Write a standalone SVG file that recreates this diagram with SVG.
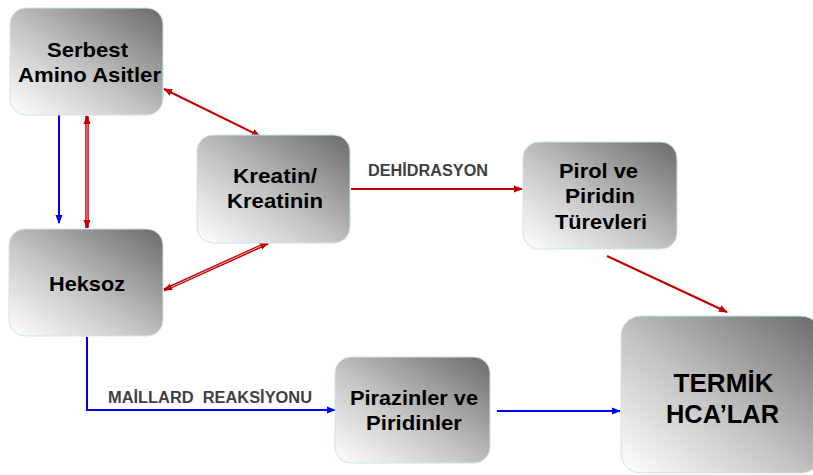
<svg xmlns="http://www.w3.org/2000/svg" width="813" height="475" viewBox="0 0 813 475">
<defs>
<linearGradient id="g" x1="0" y1="1" x2="1" y2="0">
<stop offset="0" stop-color="#ffffff"/>
<stop offset="0.45" stop-color="#c4c4c4"/>
<stop offset="1" stop-color="#6a6a6a"/>
</linearGradient>
<marker id="ar" viewBox="0 0 10 10" refX="9" refY="5" markerWidth="9" markerHeight="9" markerUnits="userSpaceOnUse" orient="auto-start-reverse">
<path d="M0,1 L10,5 L0,9 Z" fill="#c00000"/>
</marker>
<marker id="ab" viewBox="0 0 10 10" refX="9" refY="5" markerWidth="9" markerHeight="9" markerUnits="userSpaceOnUse" orient="auto">
<path d="M0,1 L10,5 L0,9 Z" fill="#0000ee"/>
</marker>
</defs>
<style>
.box{fill:url(#g);stroke:#c8e6ea;stroke-width:1}
.t{font-family:"Liberation Sans",Arial,sans-serif;font-weight:bold;fill:#000;text-anchor:middle}
.n{font-size:21px}
.lbl{font-family:"Liberation Sans",Arial,sans-serif;font-weight:bold;fill:#404040;font-size:16px}
.r{stroke:#c00000;stroke-width:2;fill:none}
.rd{stroke:#c00000;stroke-width:3.5;fill:none}
.rc{stroke:#f2b0b0;stroke-width:1;fill:none}
.b{stroke:#0000ee;stroke-width:2;fill:none}
</style>
<rect width="813" height="475" fill="#ffffff"/>
<g id="connectors">
<line class="b" x1="59" y1="115" x2="59" y2="223" marker-end="url(#ab)"/>
<line class="rd" x1="87" y1="116" x2="87" y2="228" marker-start="url(#ar)" marker-end="url(#ar)"/>
<line class="rc" x1="87" y1="124" x2="87" y2="220"/>
<line class="r" x1="164" y1="89" x2="260" y2="136" marker-start="url(#ar)" marker-end="url(#ar)"/>
<line class="rd" x1="268" y1="243" x2="164" y2="290" marker-start="url(#ar)" marker-end="url(#ar)"/>
<line class="rc" x1="261" y1="246" x2="171" y2="287"/>
<line class="r" x1="351" y1="189" x2="522" y2="189" marker-end="url(#ar)"/>
<line class="r" x1="607" y1="256" x2="727" y2="312" marker-end="url(#ar)"/>
<polyline class="b" points="87,337 87,410 335,410" marker-end="url(#ab)"/>
<line class="b" x1="497" y1="411" x2="620" y2="411" marker-end="url(#ab)"/>
<text class="lbl" x="368" y="176" textLength="120" lengthAdjust="spacingAndGlyphs">DEHİDRASYON</text>
<text class="lbl" x="108" y="403" textLength="204" lengthAdjust="spacingAndGlyphs" xml:space="preserve">MAİLLARD  REAKSİYONU</text>
</g>
<g id="serbest">
<rect class="box" x="10" y="8" width="153" height="107" rx="16"/>
<text class="t n" x="87.5" y="57" textLength="81" lengthAdjust="spacingAndGlyphs">Serbest</text>
<text class="t n" x="89.5" y="82" textLength="143" lengthAdjust="spacingAndGlyphs">Amino Asitler</text>
</g>
<g id="heksoz">
<rect class="box" x="9" y="229" width="154" height="107" rx="16"/>
<text class="t n" x="87" y="291" textLength="76" lengthAdjust="spacingAndGlyphs">Heksoz</text>
</g>
<g id="kreatin">
<rect class="box" x="197" y="135" width="153" height="108" rx="16"/>
<text class="t n" x="275" y="183" textLength="84" lengthAdjust="spacingAndGlyphs">Kreatin/</text>
<text class="t n" x="275" y="208" textLength="96" lengthAdjust="spacingAndGlyphs">Kreatinin</text>
</g>
<g id="pirol">
<rect class="box" x="523" y="142" width="154" height="107" rx="16"/>
<text class="t n" x="598.5" y="178" textLength="79" lengthAdjust="spacingAndGlyphs">Pirol ve</text>
<text class="t n" x="600" y="203" textLength="70" lengthAdjust="spacingAndGlyphs">Piridin</text>
<text class="t n" x="601" y="229" textLength="92" lengthAdjust="spacingAndGlyphs">Türevleri</text>
</g>
<g id="pirazinler">
<rect class="box" x="335" y="357" width="155" height="106" rx="16"/>
<text class="t n" x="414" y="405" textLength="128" lengthAdjust="spacingAndGlyphs">Pirazinler ve</text>
<text class="t n" x="414" y="430" textLength="96" lengthAdjust="spacingAndGlyphs">Piridinler</text>
</g>
<g id="termik">
<rect class="box" x="621" y="316" width="200" height="157" rx="20"/>
<text class="t" x="723.5" y="392" font-size="26" textLength="100" lengthAdjust="spacingAndGlyphs">TERMİK</text>
<text class="t" x="722.5" y="423" font-size="26" textLength="113" lengthAdjust="spacingAndGlyphs">HCA’LAR</text>
</g>
</svg>
